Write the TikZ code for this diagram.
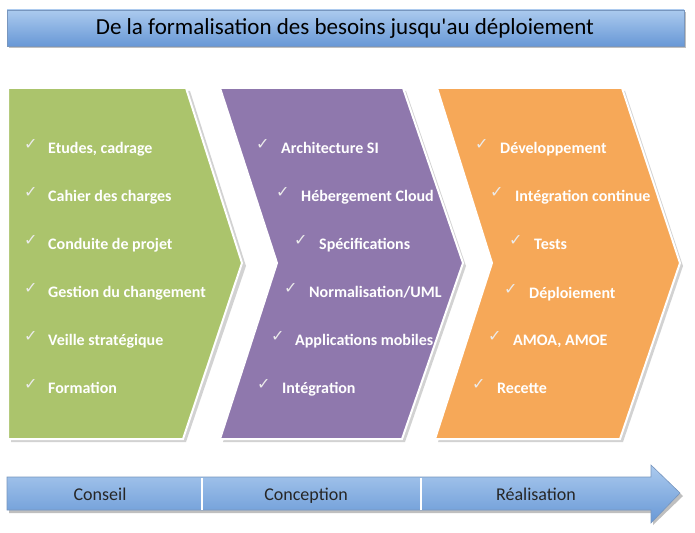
\documentclass[tikz,border=0pt]{standalone}
\usepackage{fontspec}
\setmainfont{Carlito}
\newfontfamily\symfont{DejaVu Sans}
\definecolor{cgreen}{RGB}{171,196,108}
\definecolor{cpurple}{RGB}{143,120,173}
\definecolor{corange}{RGB}{246,168,88}
\definecolor{blueTop}{RGB}{171,202,238}
\definecolor{blueBot}{RGB}{104,152,214}
\definecolor{blueEdge}{RGB}{120,150,190}
\begin{document}
\begin{tikzpicture}[x=1pt,y=-1pt,
  chev/.style={draw=white,line width=2pt,line join=miter},
  shad/.style={fill=black!35,opacity=0.5},
  item/.style={anchor=base west,text=white,font=\fontsize{16}{19}\selectfont\bfseries,inner sep=0pt,yshift=-7pt},
  chk/.style={anchor=base west,text=white!92!black,font=\symfont\fontsize{16}{19}\selectfont,inner sep=0pt,yshift=-3.5pt},
  lbl/.style={font=\fontsize{18}{21}\selectfont,text=black!85,inner sep=0pt,text height=12pt,text depth=4pt}]
\useasboundingbox (0,0) rectangle (695,532);
% title
\fill[black!25] (9,12) rectangle (686,48);
\path[top color=blueTop,bottom color=blueBot,draw=blueEdge,line width=0.6pt] (7,10) rectangle (684,46);
\node[font=\fontsize{23}{26}\selectfont\addfontfeature{Ligatures=TeXOff},inner sep=0pt,text height=15pt,text depth=5pt] (title) at (345,30) {De la formalisation des besoins jusqu'au déploiement};
% chevrons shadows
\fill[shad] (11,91) -- (190,91) -- (246,266) -- (186,442) -- (11,442) -- cycle;
\fill[shad] (223,91) -- (406,91) -- (466,266) -- (405,442) -- (223,442) -- (280,266) -- cycle;
\fill[shad] (440,91) -- (625,91) -- (683,266) -- (623,442) -- (438,442) -- (495,266) -- cycle;
% chevrons
\path[chev,fill=cgreen] (8,88) -- (186,88) -- (242,263) -- (183,439) -- (8,439) -- cycle;
\path[chev,fill=cpurple] (220,88) -- (403,88) -- (463,263) -- (402,439) -- (220,439) -- (277,263) -- cycle;
\path[chev,fill=corange] (437,88) -- (622,88) -- (680,263) -- (620,439) -- (435,439) -- (492,263) -- cycle;
% green items
\node[chk] (g1c) at (24,146) {✓}; \node[item] (g1) at (48,146) {Etudes, cadrage};
\node[chk] (g2c) at (24,194) {✓}; \node[item] (g2) at (48,194) {Cahier des charges};
\node[chk] (g3c) at (24,242) {✓}; \node[item] (g3) at (48,242) {Conduite de projet};
\node[chk] (g4c) at (24,290) {✓}; \node[item] (g4) at (48,290) {Gestion du changement};
\node[chk] (g5c) at (24,338) {✓}; \node[item] (g5) at (48,338) {Veille stratégique};
\node[chk] (g6c) at (24,386) {✓}; \node[item] (g6) at (48,386) {Formation};
% purple items
\node[chk] (p1c) at (256,146) {✓}; \node[item] (p1) at (281,146) {Architecture SI};
\node[chk] (p2c) at (276,194) {✓}; \node[item] (p2) at (301,194) {Hébergement Cloud};
\node[chk] (p3c) at (294,242) {✓}; \node[item] (p3) at (319,242) {Spécifications};
\node[chk] (p4c) at (284,290) {✓}; \node[item] (p4) at (309,290) {Normalisation/UML};
\node[chk] (p5c) at (271,338) {✓}; \node[item] (p5) at (295,338) {Applications mobiles};
\node[chk] (p6c) at (257,386) {✓}; \node[item] (p6) at (282,386) {Intégration};
% orange items
\node[chk] (o1c) at (475,146) {✓}; \node[item] (o1) at (500,146) {Développement};
\node[chk] (o2c) at (490,194) {✓}; \node[item] (o2) at (515,194) {Intégration continue};
\node[chk] (o3c) at (509,242) {✓}; \node[item] (o3) at (534,242) {Tests};
\node[chk] (o4c) at (504,291) {✓}; \node[item] (o4) at (529,291) {Déploiement};
\node[chk] (o5c) at (488,338) {✓}; \node[item] (o5) at (513,338) {AMOA, AMOE};
\node[chk] (o6c) at (472,386) {✓}; \node[item] (o6) at (497,386) {Recette};
% bottom arrow
\fill[black!25] (9,480) -- (653,480) -- (653,468) -- (683,496) -- (653,525) -- (653,513) -- (9,513) -- cycle;
\path[top color=blueTop,bottom color=blueBot,draw=blueEdge,line width=0.6pt] (7,477) -- (651,477) -- (651,465) -- (680,493) -- (651,523) -- (651,510) -- (7,510) -- cycle;
\draw[white,line width=1.2pt] (202,477.5) -- (202,509.5);
\draw[white,line width=1.2pt] (421,477.5) -- (421,509.5);
\node[lbl] (b1) at (100,496) {Conseil};
\node[lbl] (b2) at (306,496) {Conception};
\node[lbl] (b3) at (536,496) {Réalisation};
\end{tikzpicture}
\end{document}
